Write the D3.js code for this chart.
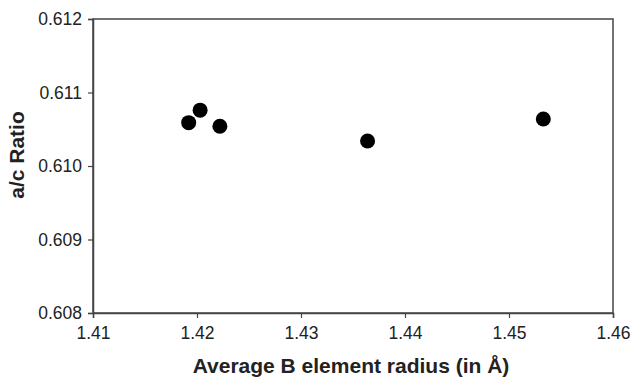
<!DOCTYPE html>
<html>
<head>
<meta charset="utf-8">
<script src="https://cdn.jsdelivr.net/npm/d3@7"></script>
<style>
  body { margin: 0; background: #fff; }
  text { font-family: "Liberation Sans", Arial, sans-serif; fill: #222; }
</style>
</head>
<body>
<div id="chart"></div>
<script>
// data
const radius = [1.4192, 1.4203, 1.4222, 1.4364, 1.4533];
const ratio = [0.61059, 0.61076, 0.61054, 0.61034, 0.61064];
const xTicks = [1.41, 1.42, 1.43, 1.44, 1.45, 1.46];
const yTicks = [0.608, 0.609, 0.610, 0.611, 0.612];

const W = 634, H = 378;
const margin = { top: 19, right: 21, bottom: 65, left: 93 };
const width = W - margin.left - margin.right;
const height = H - margin.top - margin.bottom;

const svg = d3.select("#chart").append("svg")
    .attr("width", W)
    .attr("height", H);

const g = svg.append("g")
    .attr("transform", `translate(${margin.left}, ${margin.top})`);

const x = d3.scaleLinear().domain([1.41, 1.46]).range([0, width]);
const y = d3.scaleLinear().domain([0.608, 0.612]).range([height, 0]);

// frame
g.append("rect")
    .attr("width", width)
    .attr("height", height)
    .attr("fill", "none")
    .attr("stroke", "#444")
    .attr("stroke-width", 1.5);

const xAxis = g.append("g")
    .attr("transform", `translate(0, ${height})`)
    .call(d3.axisBottom(x).tickValues(xTicks).tickFormat(d3.format(".2f")).tickSize(5).tickPadding(9));

const yAxis = g.append("g")
    .call(d3.axisLeft(y).tickValues(yTicks).tickFormat(d3.format(".3f")).tickSize(5).tickPadding(6));

[xAxis, yAxis].forEach(a => {
    a.select(".domain").attr("stroke", "#444").attr("stroke-width", 1.5);
    a.selectAll(".tick line").attr("stroke", "#444").attr("stroke-width", 1.2);
    a.selectAll(".tick text")
        .style("font-family", "'Liberation Sans', Arial, sans-serif")
        .style("font-size", "17.5px")
        .attr("fill", "#333");
});

// points
g.selectAll(".dot")
    .data(radius.map((r, i) => ({ r, v: ratio[i] })))
    .enter().append("circle")
    .attr("class", "dot")
    .attr("cx", d => x(d.r))
    .attr("cy", d => y(d.v))
    .attr("r", 7.5)
    .attr("fill", "#000");

// axis titles
svg.append("text")
    .attr("x", margin.left + width / 2 - 2)
    .attr("y", 373)
    .attr("text-anchor", "middle")
    .style("font-size", "21px")
    .style("font-weight", "bold")
    .text("Average B element radius (in Å)");

svg.append("text")
    .attr("transform", "translate(24, 155) rotate(-90)")
    .attr("text-anchor", "middle")
    .style("font-size", "21px")
    .style("font-weight", "bold")
    .text("a/c Ratio");
</script>
</body>
</html>
